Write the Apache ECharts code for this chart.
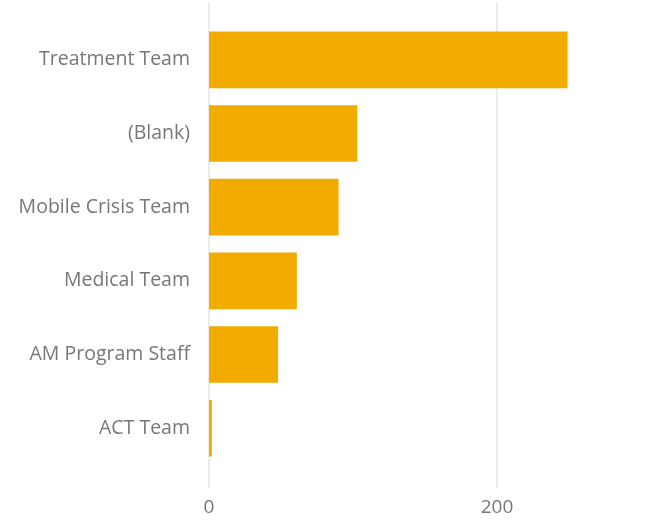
<!DOCTYPE html>
<html>
<head>
<meta charset="utf-8">
<script src="https://cdn.jsdelivr.net/npm/echarts@6/dist/echarts.min.js"></script>
<style>
  html, body { margin: 0; padding: 0; background: #fff; }
  #chart_con { width: 654px; height: 527px; }
</style>
</head>
<body>
<div id="chart_con"></div>
<script>
// categories top to bottom
const teams = ['Treatment Team', '(Blank)', 'Mobile Crisis Team', 'Medical Team', 'AM Program Staff', 'ACT Team'];
const counts = [249, 103, 90, 61, 48, 2];
const xTicks = [0, 200];

const labelColor = '#777777';
const fontFamily = '"Open Sans", "Noto Sans", sans-serif';

const option = {
    animation: false,
    grid: [
        // bars
        { left: 209, right: 13, top: 23, bottom: 62 },
        // gridlines + x labels (taller than the bar area)
        { left: 209, right: 13, top: 2, bottom: 39 }
    ],
    xAxis: [
        {
            gridIndex: 0,
            type: 'value',
            min: 0,
            max: 300,
            show: false
        },
        {
            gridIndex: 1,
            type: 'value',
            min: 0,
            max: 300,
            interval: 200,
            axisLine: { show: false },
            axisTick: { show: false },
            axisLabel: {
                color: labelColor,
                fontSize: 19,
                fontFamily: fontFamily,
                margin: 10,
                showMaxLabel: false,
                formatter: function (v) {
                    return xTicks.indexOf(v) >= 0 ? String(v) : '';
                }
            },
            splitLine: {
                show: true,
                showMaxLine: false,
                lineStyle: { color: '#e6e6e6', width: 1.5 }
            }
        }
    ],
    yAxis: [
        {
            gridIndex: 0,
            type: 'category',
            inverse: true,
            data: teams,
            axisLine: { show: false },
            axisTick: { show: false },
            axisLabel: {
                color: labelColor,
                fontSize: 19.5,
                fontFamily: fontFamily,
                margin: 19,
                padding: [7, 0, 0, 0]
            }
        },
        {
            gridIndex: 1,
            type: 'value',
            show: false
        }
    ],
    series: [
        {
            type: 'bar',
            xAxisIndex: 0,
            yAxisIndex: 0,
            data: counts,
            barCategoryGap: '23%',
            itemStyle: { color: '#F2AB00' }
        }
    ]
};

const chart = echarts.init(document.getElementById('chart_con'));
chart.setOption(option);
window.addEventListener('resize', function () {
    chart.resize();
});
</script>
</body>
</html>
